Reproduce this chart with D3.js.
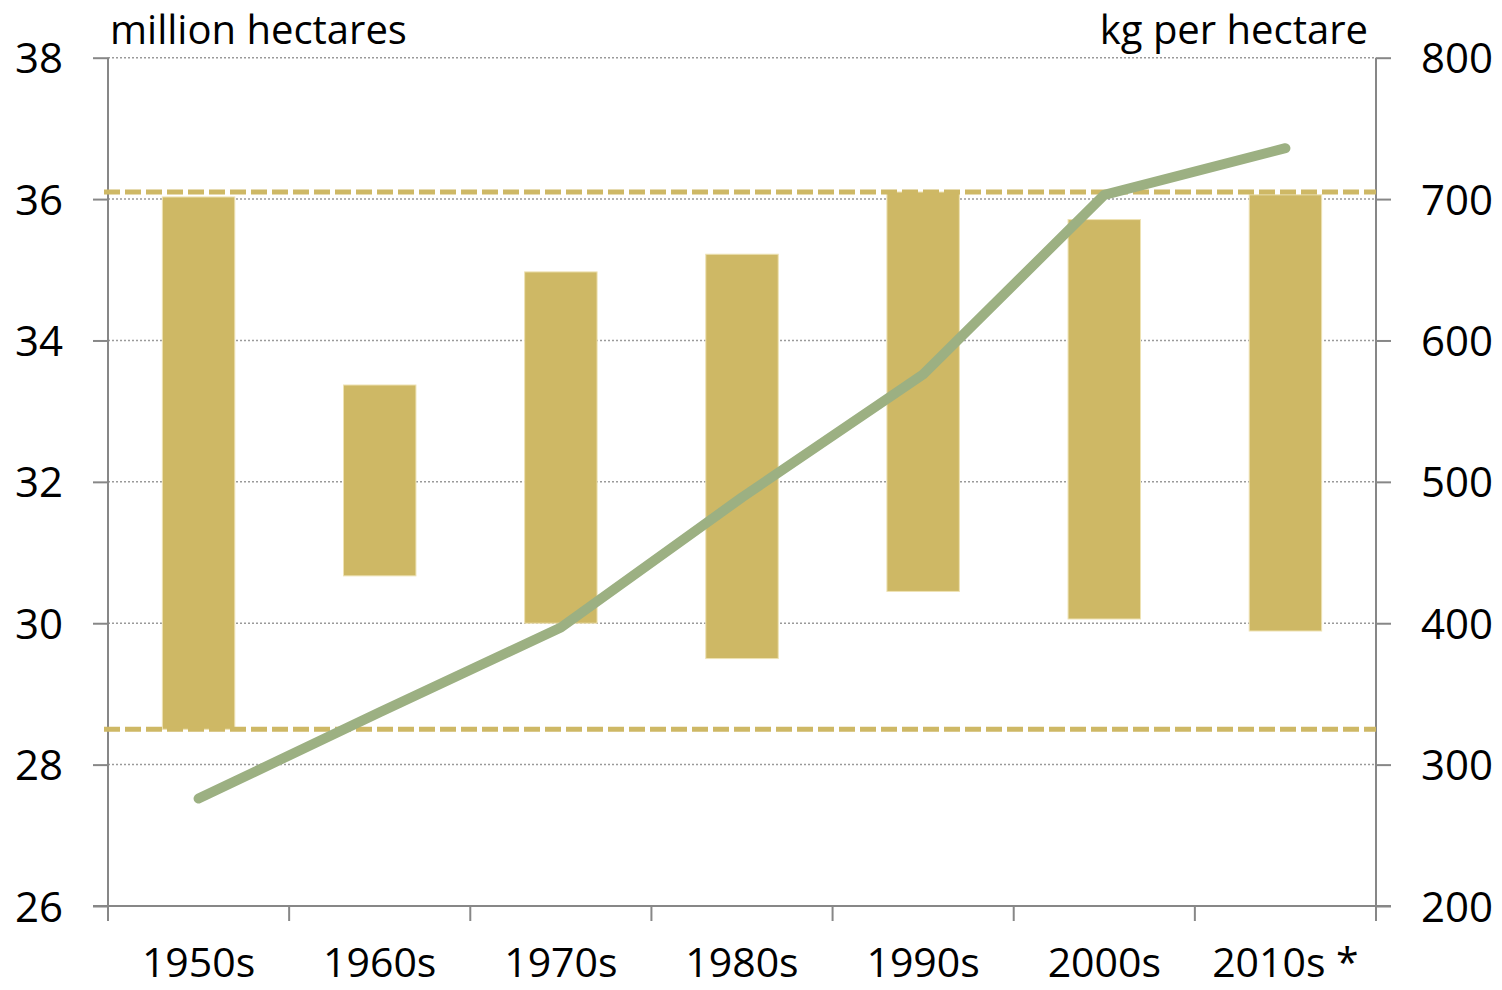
<!DOCTYPE html>
<html>
<head>
<meta charset="utf-8">
<script src="https://cdn.jsdelivr.net/npm/d3@7"></script>
<style>
  body { margin: 0; background: #fff; }
  svg text { font-family: "Open Sans", sans-serif; fill: #000; }
</style>
</head>
<body>
<svg id="chart" width="1502" height="990"></svg>
<script>
const decades = ["1950s", "1960s", "1970s", "1980s", "1990s", "2000s", "2010s *"];
// harvested area, range within each decade (million hectares)
const areaMin = [28.5, 30.67, 30.0, 29.5, 30.45, 30.06, 29.89];
const areaMax = [36.03, 33.37, 34.97, 35.22, 36.1, 35.71, 36.06];
// average yield (kg per hectare)
const yieldKg = [276, 337, 397, 489, 576, 703, 736];
const leftTicks = [26, 28, 30, 32, 34, 36, 38];
const rightTicks = [200, 300, 400, 500, 600, 700, 800];

const svg = d3.select("#chart");
const plotL = 108, plotR = 1376, plotT = 57.7, plotB = 906;

const x = d3.scaleBand().domain(decades).range([plotL, plotR]).padding(0);
const yL = d3.scaleLinear().domain([26, 38]).range([plotB, plotT]);
const yR = d3.scaleLinear().domain([200, 800]).range([plotB, plotT]);

const axisCol = "#878787";
const barCol = "#CEB865";
const lineCol = "#9CB082";

// gridlines
svg.append("g")
  .selectAll("line")
  .data(leftTicks.filter(d => d > 26))
  .join("line")
  .attr("x1", plotL).attr("x2", plotR)
  .attr("y1", d => yL(d)).attr("y2", d => yL(d))
  .attr("stroke", "#9a9a9a")
  .attr("stroke-width", 1.5)
  .attr("stroke-dasharray", "2,2");

// axes
const gL = svg.append("g")
  .attr("transform", `translate(${plotL},0)`)
  .call(d3.axisLeft(yL).tickValues(leftTicks).tickSize(15).tickPadding(30));
const gR = svg.append("g")
  .attr("transform", `translate(${plotR},0)`)
  .call(d3.axisRight(yR).tickValues(rightTicks).tickSize(15).tickPadding(30));
const gX = svg.append("g")
  .attr("transform", `translate(0,${plotB})`)
  .call(d3.axisBottom(x).tickSize(0));

[gL, gR, gX].forEach(g => {
  g.selectAll(".domain").attr("stroke", axisCol).attr("stroke-width", 2);
  g.selectAll(".tick line").attr("stroke", axisCol).attr("stroke-width", 2);
  g.selectAll("text").style("font-size", "42px").attr("fill", "#000");
});
gL.select(".domain").attr("d", `M0,${plotT}V${plotB}`);
gR.select(".domain").attr("d", `M0,${plotT}V${plotB}`);
gX.select(".domain").attr("d", `M${plotL - 15},0H${plotR + 15}`);
gL.selectAll(".tick text").attr("dy", "0.36em");
gR.selectAll(".tick text").attr("dy", "0.36em");
gX.selectAll(".tick text").attr("y", 71).attr("dy", 0).style("font-size", "41px");

// category boundary ticks
const bounds = decades.map(d => x(d)).concat([plotR]);
svg.append("g")
  .selectAll("line")
  .data(bounds)
  .join("line")
  .attr("x1", d => d).attr("x2", d => d)
  .attr("y1", plotB).attr("y2", plotB + 15)
  .attr("stroke", axisCol)
  .attr("stroke-width", 2);

// floating bars
const bw = x.bandwidth() * 0.4;
svg.append("g")
  .selectAll("rect")
  .data(decades)
  .join("rect")
  .attr("x", d => x(d) + x.bandwidth() / 2 - bw / 2)
  .attr("width", bw)
  .attr("y", (d, i) => yL(areaMax[i]))
  .attr("height", (d, i) => yL(areaMin[i]) - yL(areaMax[i]))
  .attr("fill", barCol)
  .attr("stroke", "#eee2b4")
  .attr("stroke-width", 1);

// dashed min / max lines
[d3.max(areaMax), d3.min(areaMin)].forEach(v => {
  svg.append("line")
    .attr("x1", plotL - 4).attr("x2", plotR)
    .attr("y1", yL(v)).attr("y2", yL(v))
    .attr("stroke", barCol)
    .attr("stroke-width", 5)
    .attr("stroke-dasharray", "16,5");
});

// yield line
const line = d3.line()
  .x((d, i) => x(decades[i]) + x.bandwidth() / 2)
  .y(d => yR(d));
svg.append("path")
  .datum(yieldKg)
  .attr("d", line)
  .attr("fill", "none")
  .attr("stroke", lineCol)
  .attr("stroke-width", 10)
  .attr("stroke-linecap", "round")
  .attr("stroke-linejoin", "round");

// unit labels
svg.append("text")
  .attr("x", 110).attr("y", 44)
  .style("font-size", "40px")
  .text("million hectares");
svg.append("text")
  .attr("x", 1368).attr("y", 44)
  .attr("text-anchor", "end")
  .style("font-size", "40px")
  .text("kg per hectare");
</script>
</body>
</html>
